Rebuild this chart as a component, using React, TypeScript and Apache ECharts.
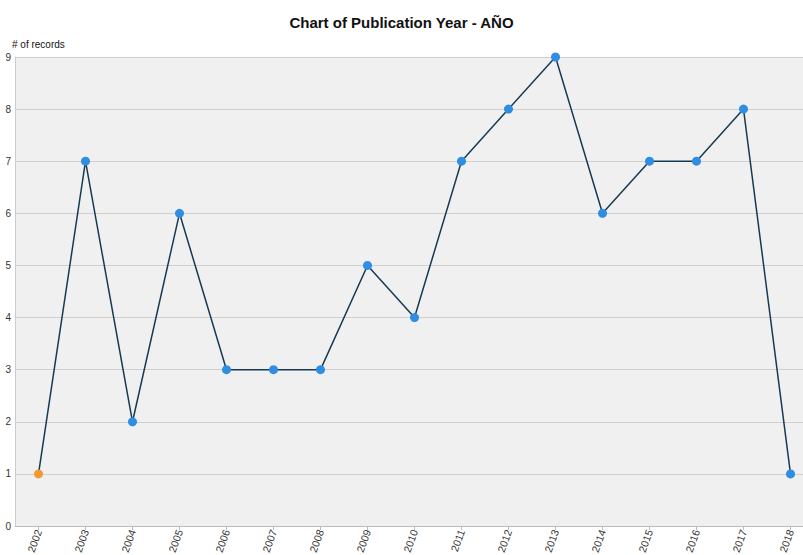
import React, { useEffect, useRef } from "react";
import * as echarts from "echarts";

const years = ["2002","2003","2004","2005","2006","2007","2008","2009","2010","2011","2012","2013","2014","2015","2016","2017","2018"];
const records = [1, 7, 2, 6, 3, 3, 3, 5, 4, 7, 8, 9, 6, 7, 7, 8, 1];
const highlightIndex = 0;

export default function App() {
  const ref = useRef<HTMLDivElement>(null);
  useEffect(() => {
    if (!ref.current) return;
    const chart = echarts.init(ref.current, null, { renderer: "svg" });
    const data = records.map((v, i) => ({
      value: v,
      itemStyle: { color: i === highlightIndex ? "#f39a35" : "#2f8de4" },
    }));
    chart.setOption({
      animation: false,
      backgroundColor: "#ffffff",
      title: {
        text: "Chart of Publication Year - AÑO",
        left: "center",
        top: 10,
        textStyle: { fontFamily: "Liberation Sans", fontWeight: "bold", fontSize: 15, color: "#111" },
      },
      grid: {
        left: 15,
        top: 57,
        right: -11,
        bottom: 29,
        show: true,
        backgroundColor: "#f0f0f0",
        borderWidth: 0,
        containLabel: false,
        outerBoundsMode: "none",
      },
      xAxis: {
        type: "category",
        data: years,
        boundaryGap: true,
        axisLine: { show: true, lineStyle: { color: "#bbbbbb" } },
        axisTick: { show: true, alignWithLabel: true, length: 4, lineStyle: { color: "#bbbbbb" } },
        axisLabel: { rotate: 70, margin: 4, fontFamily: "Liberation Sans", fontSize: 10.5, color: "#333", interval: 0 },
        splitLine: { show: false },
      },
      yAxis: {
        type: "value",
        min: 0,
        max: 9,
        interval: 1,
        name: "# of records",
        nameLocation: "end",
        nameGap: 8,
        nameTextStyle: { align: "left", fontFamily: "Liberation Sans", fontSize: 10, color: "#111", padding: [0, 0, 0, -3] },
        axisLine: { show: true, lineStyle: { color: "#cccccc" } },
        axisTick: { show: false },
        axisLabel: { margin: 4, fontFamily: "Liberation Sans", fontSize: 10, color: "#333" },
        splitLine: { show: true, lineStyle: { color: "#cfcfcf", width: 1 } },
      },
      series: [
        {
          type: "line",
          data,
          symbol: "circle",
          symbolSize: 9,
          lineStyle: { color: "#163a52", width: 1.5 },
          itemStyle: { borderWidth: 0 },
        },
      ],
    });
    return () => chart.dispose();
  }, []);
  return (
    <div style={{ width: 803, height: 555, position: "absolute", left: 0, top: 0, overflow: "hidden" }}>
      <div ref={ref} style={{ width: 803, height: 555 }} />
    </div>
  );
}
